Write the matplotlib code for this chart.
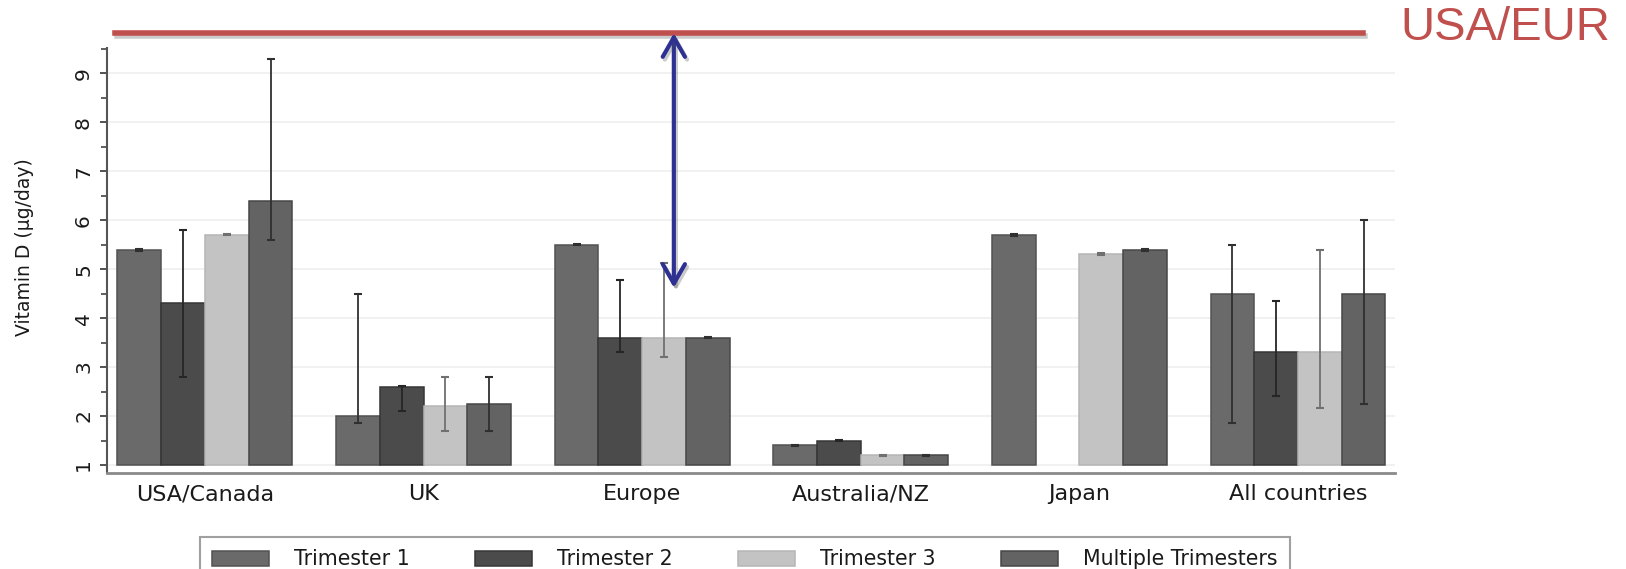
import numpy as np
import matplotlib
matplotlib.use("Agg")
import matplotlib.pyplot as plt
import matplotlib.patheffects as pe
from matplotlib.ticker import MultipleLocator

# vitamin D intake per region and trimester (ug/day), with 95% CI
regions = ["USA/Canada", "UK", "Europe", "Australia/NZ", "Japan", "All countries"]
series_names = ["Trimester 1", "Trimester 2", "Trimester 3", "Multiple Trimesters"]

tri1 = [5.4, 2.0, 5.5, 1.4, 5.7, 4.5]
tri1_lo = [5.38, 1.85, 5.49, 1.39, 5.68, 1.85]
tri1_hi = [5.42, 4.5, 5.51, 1.41, 5.72, 5.5]

tri2 = [4.3, 2.6, 3.6, 1.5, np.nan, 3.3]
tri2_lo = [2.8, 2.1, 3.3, 1.49, np.nan, 2.4]
tri2_hi = [5.8, 2.62, 4.78, 1.51, np.nan, 4.35]

tri3 = [5.7, 2.2, 3.6, 1.2, 5.3, 3.3]
tri3_lo = [5.69, 1.7, 3.2, 1.19, 5.28, 2.17]
tri3_hi = [5.71, 2.8, 5.13, 1.21, 5.32, 5.4]

multi = [6.4, 2.25, 3.6, 1.2, 5.4, 4.5]
multi_lo = [5.6, 1.7, 3.59, 1.19, 5.38, 2.25]
multi_hi = [9.3, 2.8, 3.61, 1.21, 5.42, 6.0]

# recommended intake (USA/EUR) and the gap shown for Europe
usa_eur_ref = 9.82
gap_bottom = 4.62

y_ticks = [1, 2, 3, 4, 5, 6, 7, 8, 9]

fill_colors = ["#6a6a6a", "#4b4b4b", "#c3c3c3", "#636363"]
edge_colors = ["#525252", "#353535", "#b5b5b5", "#474747"]
err_colors = ["#303030", "#262626", "#707070", "#303030"]

W, H = 1626, 569
fig = plt.figure(figsize=(W / 100, H / 100), dpi=100)
ax = fig.add_axes([107 / W, 1 - 473 / H, (1395 - 107) / W, (473 - 48) / H])

x = np.arange(len(regions))
width = 0.2
offsets = [-0.3, -0.1, 0.1, 0.3]
values = [tri1, tri2, tri3, multi]
lows = [tri1_lo, tri2_lo, tri3_lo, multi_lo]
highs = [tri1_hi, tri2_hi, tri3_hi, multi_hi]

handles = []
for i in range(4):
    v = np.array(values[i], dtype=float)
    lo = np.array(lows[i], dtype=float)
    hi = np.array(highs[i], dtype=float)
    b = ax.bar(x + offsets[i], v - 1, bottom=1, width=width,
               color=fill_colors[i], edgecolor=edge_colors[i], linewidth=1.1,
               label=series_names[i], zorder=2)
    handles.append(b)
    mid = (lo + hi) / 2
    ax.errorbar(x + offsets[i], mid, yerr=(hi - lo) / 2, fmt="none",
                ecolor=err_colors[i], elinewidth=1.3, capsize=3, capthick=1.5,
                zorder=3)

ax.set_xlim(-0.448, 5.444)
ax.set_ylim(0.837, 9.517)
ax.set_xticks(x)
ax.set_xticklabels(regions, fontsize=16, color="#1a1a1a")
ax.tick_params(axis="x", length=0, pad=8)
ax.set_yticks(y_ticks)
ax.set_yticklabels([str(t) for t in y_ticks], rotation=90, va="center",
                   fontsize=14.5, color="#1a1a1a")
ax.yaxis.set_minor_locator(MultipleLocator(0.5))
ax.tick_params(axis="y", which="major", length=5, width=1.3, color="#444444", pad=5)
ax.tick_params(axis="y", which="minor", length=4, width=1.2, color="#444444")
ax.grid(axis="y", color="#efefef", linewidth=1.2, zorder=0)
ax.set_axisbelow(True)

for side in ["top", "right"]:
    ax.spines[side].set_visible(False)
ax.spines["left"].set_color("#555555")
ax.spines["left"].set_linewidth(1.5)
ax.spines["bottom"].set_color("#8a8a8a")
ax.spines["bottom"].set_linewidth(2)

fig.text(25 / W, 1 - 247 / H, "Vitamin D (\u00b5g/day)", rotation=90,
         ha="center", va="center", fontsize=13.5, color="#1a1a1a")

# red reference line with drop shadow
shadow = [pe.SimpleLineShadow(offset=(1.5, -2), shadow_color="#555555", alpha=0.3),
          pe.Normal()]
ax.axhline(usa_eur_ref, xmin=0.006, xmax=0.975, color="#c0504d", linewidth=4,
           clip_on=False, zorder=5, path_effects=shadow)
fig.text(1400 / W, 1 - 28 / H, "USA/EUR", fontsize=34, color="#c0504d",
         family="Liberation Sans", ha="left", va="center")

# double arrow from the reference down to the Europe level
ax.annotate("", xy=(2.145, gap_bottom), xytext=(2.145, usa_eur_ref),
            arrowprops=dict(arrowstyle="<->, head_length=0.7, head_width=0.4",
                            color="#2e3192", lw=3, mutation_scale=20,
                            shrinkA=0, shrinkB=0,
                            path_effects=shadow),
            annotation_clip=False, zorder=6)

leg = fig.legend(handles=handles, loc="upper left",
                 bbox_to_anchor=(200 / W, 1 - 537 / H), ncol=4,
                 fontsize=14.8, frameon=True, fancybox=False,
                 handlelength=2.77, handleheight=0.73, handletextpad=1.2,
                 columnspacing=3.2, borderpad=0.6, borderaxespad=0)
leg.get_frame().set_edgecolor("#888888")
leg.get_frame().set_linewidth(1.5)
for t in leg.get_texts():
    t.set_color("#1a1a1a")

fig.savefig("out.png", dpi=100)
